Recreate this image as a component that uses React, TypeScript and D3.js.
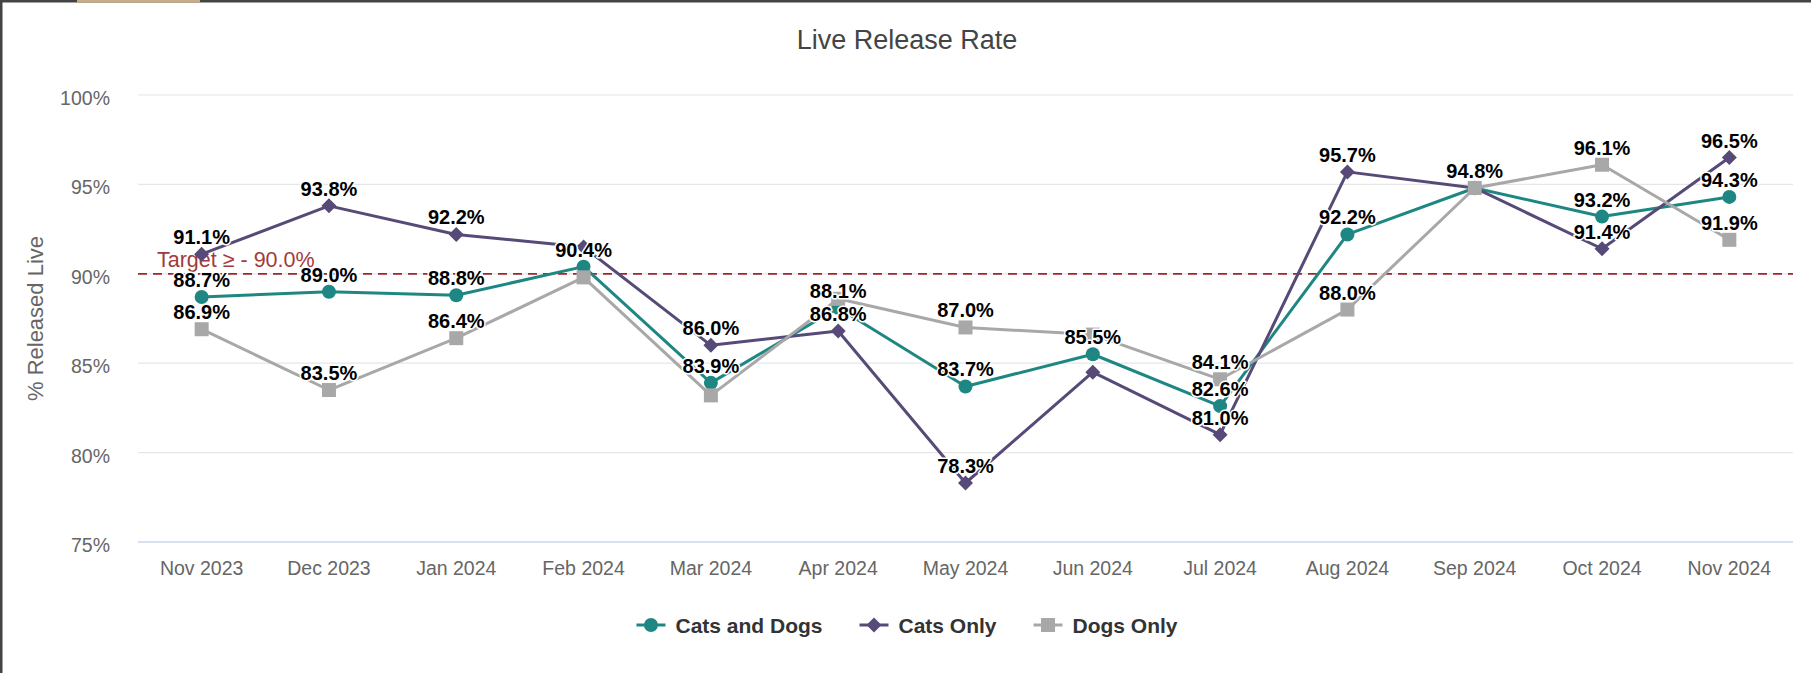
import React from 'react';
import * as d3 from 'd3';

const months = ['Nov 2023', 'Dec 2023', 'Jan 2024', 'Feb 2024', 'Mar 2024', 'Apr 2024', 'May 2024', 'Jun 2024', 'Jul 2024', 'Aug 2024', 'Sep 2024', 'Oct 2024', 'Nov 2024'];
const catsAndDogs = [88.7, 89.0, 88.8, 90.4, 83.9, 88.1, 83.7, 85.5, 82.6, 92.2, 94.8, 93.2, 94.3];
const catsOnly = [91.1, 93.8, 92.2, 91.5, 86.0, 86.8, 78.3, 84.5, 81.0, 95.7, 94.8, 91.4, 96.5];
const dogsOnly = [86.9, 83.5, 86.4, 89.8, 83.2, 88.6, 87.0, 86.6, 84.1, 88.0, 94.8, 96.1, 91.9];
const yTicks = [75, 80, 85, 90, 95, 100];
const target = 90;

const series = [
  { name: 'Cats and Dogs', values: catsAndDogs, color: '#1f8783', symbol: 'circle' },
  { name: 'Cats Only', values: catsOnly, color: '#574a78', symbol: 'diamond' },
  { name: 'Dogs Only', values: dogsOnly, color: '#a8a8a8', symbol: 'square' },
];

const W = 1811;
const H = 673;
const plot = { left: 138, right: 1793, top: 95, bottom: 542 };
const FONT = '"Liberation Sans", Arial, Helvetica, sans-serif';

function measure(text: string, font: string) {
  const c = document.createElement('canvas').getContext('2d');
  if (!c) return text.length * 10;
  c.font = font;
  return c.measureText(text).width;
}

function Marker({ kind, x, y, color }: { kind: string; x: number; y: number; color: string }) {
  if (kind === 'circle') return <circle cx={x} cy={y} r={7} fill={color} />;
  if (kind === 'diamond') {
    const s = 7.5;
    return <path d={`M${x},${y - s}L${x + s},${y}L${x},${y + s}L${x - s},${y}Z`} fill={color} />;
  }
  return <rect x={x - 7} y={y - 7} width={14} height={14} fill={color} />;
}

export default function App() {
  const x = d3.scalePoint<string>().domain(months).range([plot.left, plot.right]).padding(0.5);
  const y = d3.scaleLinear().domain([75, 100]).range([plot.bottom, plot.top]);
  const line = d3.line<number>().x((_, i) => x(months[i]) as number).y(d => y(d));

  // data labels, hide overlapping ones (series order wins)
  const labels: { x: number; y: number; text: string }[] = [];
  months.forEach((m, i) => {
    const kept: number[] = [];
    series.forEach(s => {
      const ly = y(s.values[i]) - 17;
      if (kept.every(k => Math.abs(k - ly) >= 22)) {
        kept.push(ly);
        labels.push({ x: x(m) as number, y: ly, text: s.values[i].toFixed(1) + '%' });
      }
    });
  });

  // legend layout
  const legendFont = `bold 21px ${FONT}`;
  const items = series.map(s => ({ ...s, w: 29 + 10 + measure(s.name, legendFont) }));
  const totalW = d3.sum(items, d => d.w) + 37 * (items.length - 1);
  let lx = 907 - totalW / 2;
  const legend = items.map(it => {
    const pos = lx;
    lx += it.w + 37;
    return { ...it, x: pos };
  });

  return (
    <svg width={W} height={H} style={{ position: 'absolute', left: 0, top: 0, background: '#fff' }} fontFamily={FONT}>
      <rect width={W} height={H} fill="#fff" />
      <text x={907} y={49} textAnchor="middle" fontSize={27} fill="#444">Live Release Rate</text>

      {yTicks.map(t => (
        <g key={t}>
          <line x1={plot.left} x2={plot.right} y1={y(t)} y2={y(t)} stroke={t === 75 ? '#ccd6eb' : '#e6e6e6'} strokeWidth={t === 75 ? 1.5 : 1.2} />
          <text x={110} y={y(t) + 10} textAnchor="end" fontSize={19.5} fill="#666">{t}%</text>
        </g>
      ))}

      {months.map(m => (
        <text key={m} x={x(m)} y={575} textAnchor="middle" fontSize={19.5} fill="#666">{m}</text>
      ))}

      <text transform={`translate(43,${(plot.top + plot.bottom) / 2}) rotate(-90)`} textAnchor="middle" fontSize={22} fill="#666">% Released Live</text>

      <line x1={plot.left} x2={plot.right} y1={y(target)} y2={y(target)} stroke="#a0282c" strokeWidth={1.8} strokeDasharray="9,6" />
      <text x={plot.left + 19} y={y(target) - 7} fontSize={21.5} fill="#a33a3a">Target ≥ - {target.toFixed(1)}%</text>

      {series.map(s => (
        <g key={s.name}>
          <path d={line(s.values) || ''} fill="none" stroke={s.color} strokeWidth={3} strokeLinejoin="round" />
          {s.values.map((v, i) => (
            <Marker key={i} kind={s.symbol} x={x(months[i]) as number} y={y(v)} color={s.color} />
          ))}
        </g>
      ))}

      {labels.map((l, i) => (
        <text key={i} x={l.x} y={l.y + 7} textAnchor="middle" fontSize={20} fontWeight="bold" fill="#000" stroke="#fff" strokeWidth={3} strokeLinejoin="round" style={{ paintOrder: 'stroke' }}>{l.text}</text>
      ))}

      {legend.map(it => (
        <g key={it.name} transform={`translate(${it.x},625)`}>
          <line x1={0} x2={29} y1={0} y2={0} stroke={it.color} strokeWidth={3} />
          <Marker kind={it.symbol} x={14.5} y={0} color={it.color} />
          <text x={39} y={7.5} fontSize={21} fontWeight="bold" fill="#333">{it.name}</text>
        </g>
      ))}

      <rect x={0} y={0} width={W} height={2.5} fill="#444" />
      <rect x={77} y={0} width={123} height={2.5} fill="#c9ab86" />
      <rect x={0} y={0} width={2.5} height={H} fill="#444" />
    </svg>
  );
}
